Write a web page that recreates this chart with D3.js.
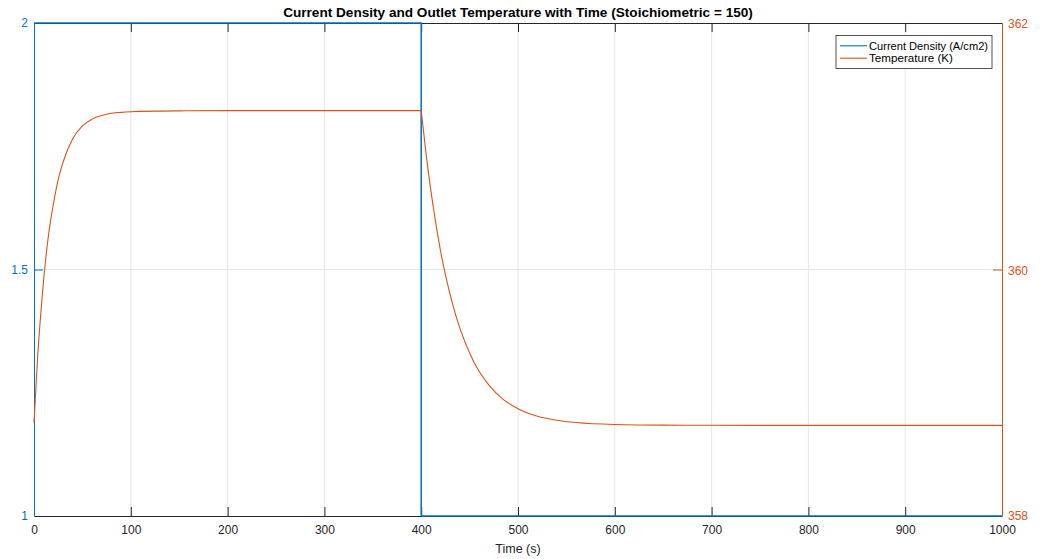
<!DOCTYPE html>
<html><head><meta charset="utf-8">
<script src="https://cdn.jsdelivr.net/npm/d3@7"></script>
<style>
body{margin:0;background:#fff}
svg{display:block;font-family:"Liberation Sans",Arial,Helvetica,sans-serif}
</style>
</head><body>
<svg id="chart" width="1041" height="559"></svg>
<script>
// ---------- data ----------
const chartTitle = "Current Density and Outlet Temperature with Time (Stoichiometric = 150)";
const xLabel = "Time (s)";
const seriesNames = ["Current Density (A/cm2)", "Temperature (K)"];
const xTicks = [0, 100, 200, 300, 400, 500, 600, 700, 800, 900, 1000];
const leftTicks = [1, 1.5, 2];
const rightTicks = [358, 360, 362];

const currentTime = [0, 400, 400, 1000];
const currentDensity = [2, 2, 1, 1];

const tempTime = [0, 2, 4, 7, 11, 15, 20, 25, 30, 40, 50, 60, 75, 90, 100, 150, 200, 300, 400,
  405, 410, 415, 420, 426, 433, 440, 454, 470, 485, 500, 520, 540, 560, 600, 650, 700, 800, 900, 1000];
const temperature = [358.755, 359.045, 359.32, 359.64, 360.00, 360.28, 360.53, 360.73, 360.87, 361.06, 361.165, 361.22, 361.26, 361.275, 361.28, 361.287, 361.289, 361.289, 361.289,
  360.94, 360.64, 360.38, 360.15, 359.923, 359.703, 359.522, 359.256, 359.062, 358.944, 358.870, 358.809, 358.777, 358.758, 358.742, 358.737, 358.736, 358.735, 358.735, 358.735];

// ---------- layout ----------
const W = 1041, H = 559;
const m = {left: 34, right: 1041 - 1002, top: 23, bottom: 559 - 516};
const pw = W - m.left - m.right, ph = H - m.top - m.bottom;
const blue = "#0072BD", orange = "#D95319", dark = "#262626";
const tickLen = 9;

const svg = d3.select("#chart");
const g = svg.append("g").attr("transform", `translate(${m.left},${m.top})`);

const x = d3.scaleLinear().domain([0, 1000]).range([0, pw]);
const yL = d3.scaleLinear().domain([1, 2]).range([ph, 0]);
const yR = d3.scaleLinear().domain([358, 362]).range([ph, 0]);

// grid
g.append("g").selectAll("line").data(xTicks.filter(d => d > 0 && d < 1000)).join("line")
  .attr("x1", d => x(d)).attr("x2", d => x(d)).attr("y1", 0).attr("y2", ph)
  .attr("stroke", "#e6e6e6").attr("stroke-width", 1);
g.append("g").selectAll("line").data(leftTicks.filter(d => d > 1 && d < 2)).join("line")
  .attr("x1", 0).attr("x2", pw).attr("y1", d => yL(d)).attr("y2", d => yL(d))
  .attr("stroke", "#dde9f3").attr("stroke-width", 1);

// axes
const fmtX = d3.format("d");
const bottomAxis = g.append("g").attr("transform", `translate(0,${ph})`)
  .call(d3.axisBottom(x).tickValues(xTicks).tickFormat(fmtX).tickSizeInner(-tickLen).tickSizeOuter(0).tickPadding(9.5));
const topAxis = g.append("g")
  .call(d3.axisTop(x).tickValues(xTicks).tickFormat("").tickSizeInner(-tickLen).tickSizeOuter(0));
const leftAxis = g.append("g")
  .call(d3.axisLeft(yL).tickValues(leftTicks).tickFormat(d3.format("")).tickSizeInner(-tickLen).tickSizeOuter(0).tickPadding(6));
const rightAxis = g.append("g").attr("transform", `translate(${pw},0)`)
  .call(d3.axisRight(yR).tickValues(rightTicks).tickFormat(d3.format("d")).tickSizeInner(-tickLen).tickSizeOuter(0).tickPadding(6));

[bottomAxis, topAxis].forEach(a => {
  a.selectAll("path,line").attr("stroke", dark).attr("stroke-width", 1);
  a.selectAll("text").attr("fill", dark).style("font-size", "12px").attr("font-family", null);
});
bottomAxis.selectAll("text").attr("dy", "0.71em");
leftAxis.selectAll("path,line").attr("stroke", blue).attr("stroke-width", 1);
leftAxis.selectAll("text").attr("fill", blue).style("font-size", "12px").attr("font-family", null);
rightAxis.selectAll("path,line").attr("stroke", orange).attr("stroke-width", 1);
rightAxis.selectAll("text").attr("fill", orange).style("font-size", "12px").attr("font-family", null)
  .attr("dy", d => d === 358 ? "0.25em" : "0.4em");
// remove edge ticks that coincide with the box sides
[bottomAxis, topAxis].forEach(a => a.selectAll(".tick line").filter(d => d === 0 || d === 1000).remove());
leftAxis.selectAll(".tick line").filter(d => d === 1 || d === 2).remove();
rightAxis.selectAll(".tick line").filter(d => d === 358 || d === 362).remove();

// current density line
const lineL = d3.line().x((d, i) => x(currentTime[i])).y(d => yL(d));
g.append("path").datum(currentDensity).attr("d", lineL)
  .attr("fill", "none").attr("stroke", blue).attr("stroke-width", 1.5);

// temperature line (split at the step so the corner stays sharp)
const idx = d3.range(tempTime.length);
const seg1 = idx.filter(i => tempTime[i] <= 400), seg2 = idx.filter(i => tempTime[i] >= 400);
const lineIdx = d3.line().x(i => x(tempTime[i])).y(i => yR(temperature[i])).curve(d3.curveMonotoneX);
[seg1, seg2].forEach(s => g.append("path").datum(s).attr("d", lineIdx)
  .attr("fill", "none").attr("stroke", orange).attr("stroke-width", 1.1));

// title & label
svg.append("text").attr("x", m.left + pw / 2).attr("y", 16.5).attr("text-anchor", "middle")
  .style("font-size", "13.6px").style("font-weight", "bold").attr("fill", "#000").text(chartTitle);
svg.append("text").attr("x", m.left + pw / 2).attr("y", 553).attr("text-anchor", "middle")
  .style("font-size", "12.5px").attr("fill", dark).text(xLabel);

// legend
const lg = svg.append("g").attr("transform", "translate(836,35.5)");
lg.append("rect").attr("width", 156).attr("height", 33).attr("fill", "#fff").attr("stroke", dark).attr("stroke-width", 0.8);
const colors = [blue, orange];
const legendTextWidths = [119, 84];
seriesNames.forEach((name, i) => {
  const yy = 10.3 + i * 12.4;
  lg.append("line").attr("x1", 4).attr("x2", 31).attr("y1", yy).attr("y2", yy)
    .attr("stroke", colors[i]).attr("stroke-width", 1.1);
  lg.append("text").attr("x", 33).attr("y", yy).attr("dy", "0.35em")
    .attr("textLength", legendTextWidths[i]).attr("lengthAdjust", "spacingAndGlyphs")
    .style("font-size", "10.8px").attr("fill", "#000").text(name);
});
</script>
</body></html>
